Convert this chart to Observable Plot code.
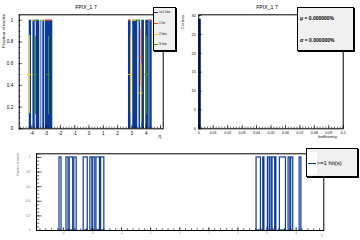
<!DOCTYPE html>
<html><head><meta charset="utf-8">
<script src="https://cdn.jsdelivr.net/npm/d3@7"></script>
<script src="https://cdn.jsdelivr.net/npm/@observablehq/plot@0.6"></script>
<style>
body{margin:0;background:#fff}
#c{position:relative;width:360px;height:240px;overflow:hidden;font-family:"Liberation Sans",Arial,sans-serif;background:#fff;color:#000}
.abs{position:absolute;white-space:nowrap;line-height:1}
.box{position:absolute;background:#f0f0f0;border:1px solid #000;box-sizing:border-box}
svg{position:absolute;overflow:visible}
</style></head><body><div id="c"></div>
<script>
// ---------- data ----------
// top panel: eta bins where the fraction of tracks with >=1 hits is 1
const topBinLo = [-4.18,-3.92,-3.69,-3.36,-3.23,-3.04, 2.76,3.06,3.50,3.69,3.97,4.25];
const topBinHi = [-4.02,-3.76,-3.44,-3.30,-3.09,-2.53, 2.94,3.41,3.60,3.88,4.21,4.42];
const topBinFrac = [1,1,1,1,1,1, 1,1,1,1,1,1];

// bottom panel: finer eta bins, fraction of tracks with >=1 hit(s)
const etaLo = [-4.13,-3.89,-3.78,-3.62,-3.30,-3.07,-2.97,-2.86,-2.70, 2.64,2.87,3.03,3.11,3.19,3.30,3.44,3.74,3.83,4.12];
const etaHi = [-4.06,-3.82,-3.66,-3.54,-3.16,-3.00,-2.90,-2.74,-2.59, 2.79,2.91,3.09,3.16,3.28,3.32,3.65,3.80,3.90,4.18];
const etaFrac = etaLo.map(() => 1);

const seriesNames = [">=1 hits", "1 hit", "2 hits", "3 hits"];
const seriesColors = ["#0b3a94", "#ee4a1e", "#f7c60f", "#3a9d1c"];

// partial fractions with error bars
const ptSeries = ["2 hits","3 hits","3 hits","2 hits","1 hit","2 hits","3 hits"];
const ptEta    = [-4.16, -3.74, -2.83, 2.92, 3.64, 3.64, 4.04];
const ptVal    = [0.5, 0.5, 0.5, 0.5, 0.66, 0.33, 0.5];
const ptErrLo  = [0.14, 0.13, 0.13, 0.14, 0.39, 0.06, 0.13];
const ptErrHi  = [0.86, 0.85, 0.85, 0.86, 0.93, 0.60, 0.85];
const ptHalfBin = 0.14;
// partial fractions equal to 1 (bin ranges)
const oneSeries = ["2 hits","3 hits","2 hits","1 hit","1 hit","2 hits","3 hits","1 hit"];
const oneLo     = [-4.00, -3.76, -3.32, -3.02, 2.76, 3.04, 3.32, 4.18];
const oneHi     = [-3.83, -3.48, -3.13, -2.55, 2.90, 3.32, 3.60, 4.42];
const oneVal    = [1, 1, 1, 1, 1, 1, 1, 1];

const ineffLo = [0], ineffHi = [0.0018], ineffCount = [29];
const statMean = "0.000000%", statSigma = "0.000000%";

const title = "FPIX_1 7";

// ---------- helpers ----------
const FONT = '"Liberation Sans", Arial, sans-serif';
const colorOf = s => seriesColors[seriesNames.indexOf(s)];
const fmt = d => String(+d.toFixed(3));
function ticksX(vals, len, innerH, sw=0.6){return Plot.tickX(vals,{x:d=>d,stroke:"#000",strokeWidth:sw,insetTop:innerH-len});}
function ticksY(vals, len, innerW, sw=0.6){return Plot.tickY(vals,{y:d=>d,stroke:"#000",strokeWidth:sw,insetRight:innerW-len});}
const rng = (a,b,s) => d3.range(Math.round((b-a)/s)+1).map(i => +(a+i*s).toFixed(4));

const c = document.getElementById("c");
function place(svg, left, top){svg.style.left=left+"px";svg.style.top=top+"px";c.appendChild(svg);}
function txt(s, css){const d=document.createElement("div");d.className="abs";d.textContent=s;Object.assign(d.style,css);c.appendChild(d);return d;}
function blk(css){const d=document.createElement("div");d.className="abs";Object.assign(d.style,css);c.appendChild(d);return d;}

const topBins = topBinLo.map((lo,i)=>({lo, hi:topBinHi[i], f:topBinFrac[i]}));
const bins = etaLo.map((lo,i)=>({lo, hi:etaHi[i], f:etaFrac[i]}));
const pts = ptEta.map((e,i)=>({s:ptSeries[i], e, v:ptVal[i], lo:ptErrLo[i], hi:ptErrHi[i]}));
const ones = oneLo.map((lo,i)=>({s:oneSeries[i], lo, hi:oneHi[i], v:oneVal[i]}));

// ---------- panel 1 ----------
{
  const W=180,H=140,mL=18.7,mT=14.3,mR=17.3,mB=11.7, iW=W-mL-mR, iH=H-mT-mB;
  const p = Plot.plot({
    width:W,height:H,marginLeft:mL,marginTop:mT,marginRight:mR,marginBottom:mB,
    style:{fontFamily:FONT,fontSize:"4.6px",background:"transparent",overflow:"visible"},
    x:{domain:[-4.88,5.19]}, y:{domain:[0,1.05]},
    marks:[
      Plot.rect(topBins,{x1:"lo",x2:"hi",y1:()=>0,y2:"f",fill:seriesColors[0]}),
      Plot.ruleX(pts,{x:"e",y1:"lo",y2:"hi",stroke:d=>colorOf(d.s),strokeWidth:1}),
      Plot.ruleY(pts,{y:"v",x1:d=>d.e-ptHalfBin,x2:d=>d.e+ptHalfBin,stroke:d=>colorOf(d.s),strokeWidth:1}),
      Plot.ruleY(ones,{y:"v",x1:"lo",x2:"hi",stroke:d=>colorOf(d.s),strokeWidth:1.2}),
      Plot.frame({stroke:"#000",strokeWidth:1}),
      ticksX(rng(-4.8,5.0,0.2),1.6,iH), ticksX(rng(-4,5,1),3.5,iH),
      ticksY(rng(0,1.05,0.05),1.6,iW), ticksY(rng(0,1,0.2),3.5,iW),
      Plot.axisX(rng(-4,4,1),{label:null,tickSize:0,tickPadding:2.5,tickFormat:fmt,fontSize:"4.6px"}),
      Plot.axisY(rng(0,1,0.2),{label:null,tickSize:0,tickPadding:6,tickFormat:fmt,fontSize:"4.6px"})
    ]
  });
  place(p,0,0);
  txt(title,{left:"86px",top:"4.5px",fontSize:"5.2px",transform:"translateX(-50%)"});
  txt("Fraction of tracks",{left:"2.2px",top:"14px",fontSize:"4.4px",transformOrigin:"0 0",transform:"rotate(-90deg) translateX(-100%)"});
  txt("η",{left:"158.5px",top:"134px",fontSize:"5px",color:"#000"});
  const lg = document.createElement("div"); lg.className="box";
  Object.assign(lg.style,{left:"153px",top:"7px",width:"23px",height:"43.5px",boxShadow:"1px 1px 0 #000"});
  c.appendChild(lg);
  seriesNames.forEach((n,i)=>{
    const y = 12.7 + i*10.7;
    blk({left:"154px",top:(y-0.5)+"px",width:"4px",height:"1.1px",background:seriesColors[i]});
    txt(n,{left:"159px",top:(y-1.6)+"px",fontSize:"3.2px"});
  });
}

// ---------- panel 2 ----------
{
  const W=180,H=140,mL=18.3,mT=14.3,mR=17.3,mB=11.7, iW=W-mL-mR, iH=H-mT-mB;
  const hb = ineffLo.map((lo,i)=>({lo,hi:ineffHi[i],n:ineffCount[i]}));
  const p = Plot.plot({
    width:W,height:H,marginLeft:mL,marginTop:mT,marginRight:mR,marginBottom:mB,
    style:{fontFamily:FONT,fontSize:"4px",background:"transparent",overflow:"visible"},
    x:{domain:[0,0.1]}, y:{domain:[0,30.2]},
    marks:[
      Plot.rect(hb,{x1:"lo",x2:"hi",y1:()=>0,y2:"n",fill:"#0b3a94"}),
      Plot.ruleX(hb,{x:"lo",y1:()=>0,y2:"n",stroke:"#000033",strokeWidth:0.9,strokeDasharray:"1.3,1.3",dx:0.6}),
      Plot.frame({stroke:"#000",strokeWidth:1}),
      ticksX(rng(0,0.1,0.002),1.6,iH), ticksX(rng(0,0.1,0.01),3.5,iH),
      ticksY(rng(0,30,1),1.6,iW), ticksY(rng(0,30,5),3.5,iW),
      Plot.axisX(rng(0,0.1,0.01),{label:null,tickSize:0,tickPadding:2.5,tickFormat:fmt,fontSize:"3.6px"}),
      Plot.axisY(rng(0,30,5),{label:null,tickSize:0,tickPadding:3,tickFormat:fmt,fontSize:"3.8px"})
    ]
  });
  place(p,180,0);
  txt(title,{left:"267px",top:"4.5px",fontSize:"5.2px",transform:"translateX(-50%)"});
  txt("Cnt bins",{left:"181.5px",top:"14.5px",fontSize:"3.8px",transformOrigin:"0 0",transform:"rotate(-90deg) translateX(-100%)"});
  txt("Inefficiency",{left:"337px",top:"135.8px",fontSize:"3.8px",transform:"translateX(-100%)"});
  const sb = document.createElement("div"); sb.className="box";
  Object.assign(sb.style,{left:"296.5px",top:"7.3px",width:"57px",height:"43.5px",boxShadow:"1px 1px 0 #000"});
  c.appendChild(sb);
  txt("μ = "+statMean,{left:"300px",top:"15.6px",fontSize:"5px",fontWeight:"bold"});
  txt("σ = "+statSigma,{left:"300px",top:"37.6px",fontSize:"5px",fontWeight:"bold"});
}

// ---------- panel 3 ----------
{
  const W=360,H=100,mL=36,mT=13.3,mR=36.7,mB=10, iW=W-mL-mR, iH=H-mT-mB;
  const p = Plot.plot({
    width:W,height:H,marginLeft:mL,marginTop:mT,marginRight:mR,marginBottom:mB,
    style:{fontFamily:FONT,fontSize:"3px",background:"transparent",overflow:"visible"},
    x:{domain:[-4.92,4.95]}, y:{domain:[0,1.05]},
    marks:[
      Plot.rect(bins,{x1:"lo",x2:"hi",y1:()=>0,y2:"f",fill:"none",stroke:seriesColors[0],strokeWidth:1.2}),
      Plot.frame({stroke:"#000",strokeWidth:1}),
      ticksX(rng(-4.8,4.8,0.2),1.8,iH), ticksX(rng(-4,4,1),3,iH),
      ticksY(rng(0,1.05,0.05),3.2,iW), ticksY(rng(0,1,0.2),5.5,iW),
      Plot.axisX(rng(-4,4,1),{label:null,tickSize:0,tickPadding:1.5,tickFormat:fmt,fontSize:"3px",fill:"#777"}),
      Plot.axisY(rng(0,1,0.2),{label:null,tickSize:0,tickPadding:6,tickFormat:fmt,fontSize:"3px",fill:"#777"})
    ]
  });
  place(p,0,140);
  txt("Fraction of tracks",{left:"16.8px",top:"152.5px",fontSize:"3px",color:"#777",transformOrigin:"0 0",transform:"rotate(-90deg) translateX(-100%)"});
  txt("η",{left:"321px",top:"234px",fontSize:"3px",color:"#777"});
  const lb = document.createElement("div"); lb.className="box";
  Object.assign(lb.style,{left:"306px",top:"148px",width:"52px",height:"29px",boxShadow:"1px 1px 0 #000"});
  c.appendChild(lb);
  blk({left:"307px",top:"152px",width:"10px",height:"22px",background:"#fff"});
  blk({left:"308px",top:"163px",width:"8px",height:"1px",background:seriesColors[0]});
  txt(">=1 hit(s)",{left:"316.5px",top:"160.2px",fontSize:"6px"});
}
</script></body></html>
